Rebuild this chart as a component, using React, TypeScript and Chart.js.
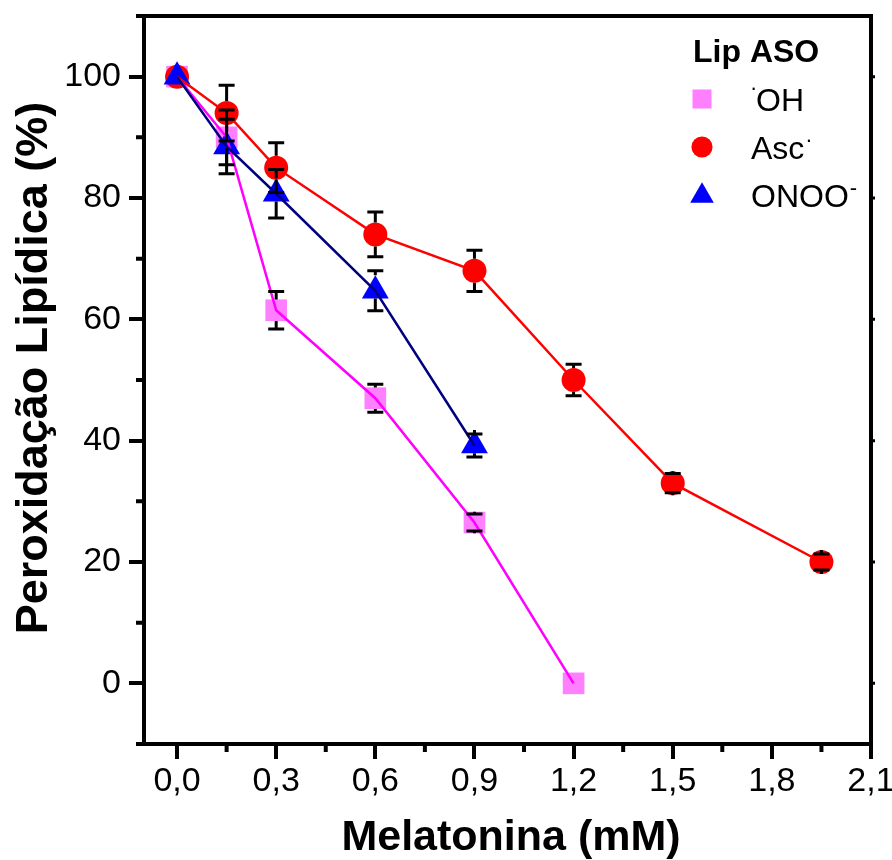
import { useEffect, useRef } from "react";
import { Chart, registerables } from "chart.js";

Chart.register(...registerables);

// Melatonin concentration (mM) and lipid peroxidation (%) per oxidant
const concOH = [0, 0.15, 0.3, 0.6, 0.9, 1.2];
const lipOH = [100, 90, 61.5, 47, 26.5, 0];
const errOH = [0, 4.5, 3.1, 2.3, 1.4, 0];

const concAsc = [0, 0.15, 0.3, 0.6, 0.9, 1.2, 1.5, 1.95];
const lipAsc = [100, 94, 85, 74, 68, 50, 33, 20];
const errAsc = [0, 4.6, 4.1, 3.7, 3.4, 2.6, 1.6, 1.3];

const concONOO = [0, 0.15, 0.3, 0.6, 0.9];
const lipONOO = [100, 88.5, 80.7, 64.7, 39.2];
const errONOO = [0, 4.5, 4.0, 3.3, 1.9];

const xTicks = [0, 0.3, 0.6, 0.9, 1.2, 1.5, 1.8, 2.1];
const xMinorTicks = [0.15, 0.45, 0.75, 1.05, 1.35, 1.65, 1.95];
const yTicks = [0, 20, 40, 60, 80, 100];
const yMinorTicks = [-10, 10, 30, 50, 70, 90, 110];

const legendTitle = "Lip ASO";
const xTitle = "Melatonina (mM)";
const yTitle = "Peroxidação Lipídica (%)";

const FONT = "'Liberation Sans', Arial, Helvetica, sans-serif";

type Series = {
  name: string;
  sup: string;
  supBefore: boolean;
  x: number[];
  y: number[];
  err: number[];
  fill: string;
  line: string;
  style: "rect" | "circle" | "triangle";
  radius: number;
  halfUp: number;
  halfDown: number;
};

const series: Series[] = [
  { name: "OH", sup: "·", supBefore: true, x: concOH, y: lipOH, err: errOH, fill: "#FF80FF", line: "#FF00FF", style: "rect", radius: 15.3, halfUp: 10.8, halfDown: 10.8 },
  { name: "Asc", sup: "·", supBefore: false, x: concAsc, y: lipAsc, err: errAsc, fill: "#FF0000", line: "#FF0000", style: "circle", radius: 12, halfUp: 12, halfDown: 12 },
  { name: "ONOO", sup: "-", supBefore: false, x: concONOO, y: lipONOO, err: errONOO, fill: "#0000FF", line: "#000080", style: "triangle", radius: 15.5, halfUp: 15.5, halfDown: 7.75 },
];

const points = (s: Series) => s.x.map((x, i) => ({ x, y: s.y[i] }));

function drawMarker(ctx: CanvasRenderingContext2D, style: string, x: number, y: number, r: number, color: string) {
  ctx.save();
  ctx.fillStyle = color;
  ctx.beginPath();
  if (style === "rect") {
    const h = Math.SQRT1_2 * r;
    ctx.rect(x - h, y - h, 2 * h, 2 * h);
  } else if (style === "circle") {
    ctx.arc(x, y, r, 0, Math.PI * 2);
  } else {
    let a = 0;
    ctx.moveTo(x + Math.sin(a) * r, y - Math.cos(a) * r);
    a += (Math.PI * 2) / 3;
    ctx.lineTo(x + Math.sin(a) * r, y - Math.cos(a) * r);
    a += (Math.PI * 2) / 3;
    ctx.lineTo(x + Math.sin(a) * r, y - Math.cos(a) * r);
    ctx.closePath();
  }
  ctx.fill();
  ctx.restore();
}

const errorBarPlugin = {
  id: "errorBars",
  afterDatasetsDraw(chart: any) {
    const ctx: CanvasRenderingContext2D = chart.ctx;
    const yScale = chart.scales.y;
    ctx.save();
    ctx.strokeStyle = "#000";
    ctx.lineWidth = 3;
    ctx.lineCap = "butt";
    series.forEach((s, di) => {
      const meta = chart.getDatasetMeta(di);
      meta.data.forEach((el: any, i: number) => {
        const e = s.err[i];
        if (!e) return;
        const px = el.x;
        const py = el.y;
        const top = yScale.getPixelForValue(s.y[i] + e);
        const bot = yScale.getPixelForValue(s.y[i] - e);
        const cap = 8;
        ctx.beginPath();
        ctx.moveTo(px, top);
        ctx.lineTo(px, py - s.halfUp);
        ctx.moveTo(px, bot);
        ctx.lineTo(px, py + s.halfDown);
        ctx.moveTo(px - cap, top);
        ctx.lineTo(px + cap, top);
        ctx.moveTo(px - cap, bot);
        ctx.lineTo(px + cap, bot);
        ctx.stroke();
      });
    });
    ctx.restore();
  },
};

const framePlugin = {
  id: "frameAndText",
  afterDraw(chart: any) {
    const ctx: CanvasRenderingContext2D = chart.ctx;
    const { left, right, top, bottom } = chart.chartArea;
    const xs = chart.scales.x;
    const ys = chart.scales.y;
    ctx.save();
    ctx.strokeStyle = "#000";
    ctx.lineWidth = 4;
    ctx.strokeRect(left, top, right - left, bottom - top);

    // minor ticks
    ctx.beginPath();
    yMinorTicks.forEach((v) => {
      const p = ys.getPixelForValue(v);
      ctx.moveTo(left - 8, p);
      ctx.lineTo(left, p);
    });
    xMinorTicks.forEach((v) => {
      const p = xs.getPixelForValue(v);
      ctx.moveTo(p, bottom);
      ctx.lineTo(p, bottom + 8);
    });
    ctx.stroke();

    // small ticks on the right frame
    ctx.lineWidth = 3;
    ctx.beginPath();
    yTicks.forEach((v) => {
      const p = ys.getPixelForValue(v);
      ctx.moveTo(right, p);
      ctx.lineTo(right + 4, p);
    });
    ctx.stroke();

    // axis titles
    ctx.fillStyle = "#000";
    ctx.font = `bold 43px ${FONT}`;
    ctx.textAlign = "center";
    ctx.textBaseline = "alphabetic";
    ctx.fillText(xTitle, 511, 850);

    ctx.save();
    ctx.translate(47, 368);
    ctx.rotate(-Math.PI / 2);
    ctx.font = `bold 45px ${FONT}`;
    ctx.fillText(yTitle, 0, 0);
    ctx.restore();

    // legend
    ctx.textAlign = "left";
    ctx.font = `bold 32px ${FONT}`;
    ctx.fillText(legendTitle, 693, 62);
    const rows = [99, 147, 196];
    const baselines = [111, 158.5, 207];
    series.forEach((s, i) => {
      drawMarker(ctx, s.style, 702, rows[i], s.radius * 0.88, s.fill);
      ctx.font = `32px ${FONT}`;
      let tx = 751;
      if (s.supBefore) {
        ctx.font = `22px ${FONT}`;
        ctx.fillText(s.sup, 750, baselines[i] - 16);
        tx = 756;
        ctx.font = `32px ${FONT}`;
        ctx.fillText(s.name, tx, baselines[i]);
      } else {
        ctx.fillText(s.name, tx, baselines[i]);
        const w = ctx.measureText(s.name).width;
        ctx.font = `22px ${FONT}`;
        ctx.fillText(s.sup, tx + w + 1, baselines[i] - 12);
      }
    });
    ctx.restore();
  },
};

export default function App() {
  const ref = useRef<HTMLCanvasElement>(null);

  useEffect(() => {
    const canvas = ref.current;
    if (!canvas) return;

    const markerSets = series.map((s, i) => ({
      label: s.name,
      data: points(s),
      showLine: false,
      pointStyle: s.style,
      pointRadius: s.radius,
      pointHoverRadius: s.radius,
      pointBackgroundColor: s.fill,
      pointBorderWidth: 0,
      backgroundColor: s.fill,
      borderColor: s.fill,
      order: 6 - i,
    }));
    const lineSets = series.map((s, i) => ({
      label: s.name + " line",
      data: points(s),
      showLine: true,
      pointRadius: 0,
      borderColor: s.line,
      borderWidth: 2.5,
      tension: 0,
      fill: false,
      order: 3 - i,
    }));

    const tickFont = { family: FONT, size: 34 };

    const chart = new Chart(canvas, {
      type: "scatter",
      data: { datasets: [...markerSets, ...lineSets] as any },
      plugins: [errorBarPlugin, framePlugin],
      options: {
        responsive: false,
        animation: false,
        devicePixelRatio: 1,
        layout: { padding: { left: 0, top: 16, right: 21, bottom: 0 } },
        plugins: { legend: { display: false }, tooltip: { enabled: false } },
        scales: {
          x: {
            type: "linear",
            min: -0.1,
            max: 2.1,
            afterBuildTicks: (s: any) => {
              s.ticks = xTicks.map((v) => ({ value: v }));
            },
            afterFit: (s: any) => {
              s.height = 116;
              s.paddingLeft = 0;
              s.paddingRight = 0;
            },
            ticks: {
              color: "#000",
              font: tickFont,
              padding: 2,
              maxRotation: 0,
              autoSkip: false,
              callback: (v: any) => Number(v).toFixed(1).replace(".", ","),
            },
            grid: { drawOnChartArea: false, drawTicks: true, tickLength: 15, lineWidth: 4, color: "#000" },
            border: { display: true, width: 4, color: "#000" },
          },
          y: {
            type: "linear",
            min: -10,
            max: 110,
            afterBuildTicks: (s: any) => {
              s.ticks = yTicks.map((v) => ({ value: v }));
            },
            afterFit: (s: any) => {
              s.width = 144;
              s.paddingTop = 0;
              s.paddingBottom = 0;
            },
            ticks: {
              color: "#000",
              font: tickFont,
              padding: 8,
              autoSkip: false,
              callback: (v: any) => String(v),
            },
            grid: { drawOnChartArea: false, drawTicks: true, tickLength: 15, lineWidth: 4, color: "#000" },
            border: { display: true, width: 4, color: "#000" },
          },
        },
      } as any,
    });

    return () => chart.destroy();
  }, []);

  return (
    <div style={{ position: "fixed", left: 0, top: 0, width: 892, height: 860, background: "#fff" }}>
      <canvas ref={ref} width={892} height={860} style={{ width: 892, height: 860, display: "block" }} />
    </div>
  );
}
